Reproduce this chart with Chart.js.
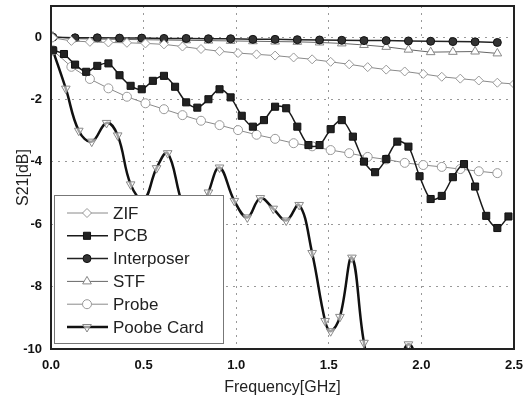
<!DOCTYPE html>
<html>
<head>
<meta charset="utf-8">
<script src="https://cdn.jsdelivr.net/npm/chart.js@4.4.0/dist/chart.umd.min.js"></script>
<style>
  html, body { margin: 0; padding: 0; background: #fff; }
  #wrap { width: 523px; height: 401px; }
</style>
</head>
<body>
<div id="wrap"><canvas id="s21-chart" width="523" height="401"></canvas></div>
<script>
// values (GHz / dB)
const xTicks = [0, 0.5, 1.0, 1.5, 2.0, 2.5];
const yTicks = [-10, -8, -6, -4, -2, 0];

const zifFreq = [0.01, 0.11, 0.21, 0.31, 0.41, 0.51, 0.61, 0.71, 0.81, 0.91, 1.01, 1.11, 1.21, 1.31, 1.41, 1.51, 1.61, 1.71, 1.81, 1.91, 2.01, 2.11, 2.21, 2.31, 2.41, 2.5];
const zifS21 = [-0.02, -0.12, -0.15, -0.17, -0.18, -0.2, -0.23, -0.3, -0.38, -0.45, -0.51, -0.55, -0.59, -0.65, -0.71, -0.79, -0.87, -0.96, -1.04, -1.1, -1.18, -1.27, -1.33, -1.39, -1.46, -1.5];

const pcbFreq = [0.01, 0.07, 0.13, 0.19, 0.25, 0.31, 0.37, 0.43, 0.49, 0.55, 0.61, 0.67, 0.73, 0.79, 0.85, 0.91, 0.97, 1.03, 1.09, 1.15, 1.21, 1.27, 1.33, 1.39, 1.45, 1.51, 1.57, 1.63, 1.69, 1.75, 1.81, 1.87, 1.93, 1.99, 2.05, 2.11, 2.17, 2.23, 2.29, 2.35, 2.41, 2.47];
const pcbS21 = [-0.42, -0.54, -0.88, -1.11, -0.92, -0.84, -1.22, -1.56, -1.67, -1.4, -1.24, -1.59, -2.09, -2.26, -1.99, -1.67, -1.93, -2.52, -2.87, -2.66, -2.23, -2.28, -2.87, -3.46, -3.46, -2.95, -2.66, -3.19, -3.99, -4.33, -3.91, -3.35, -3.51, -4.46, -5.19, -5.09, -4.49, -4.07, -4.79, -5.73, -6.12, -5.75];

const interposerFreq = [0.01, 0.13, 0.25, 0.37, 0.49, 0.61, 0.73, 0.85, 0.97, 1.09, 1.21, 1.33, 1.45, 1.57, 1.69, 1.81, 1.93, 2.05, 2.17, 2.29, 2.41];
const interposerS21 = [0.0, -0.02, -0.02, -0.03, -0.03, -0.04, -0.04, -0.05, -0.05, -0.07, -0.07, -0.08, -0.09, -0.1, -0.11, -0.11, -0.12, -0.13, -0.14, -0.15, -0.17];

const stfFreq = [0.01, 0.13, 0.25, 0.37, 0.49, 0.61, 0.73, 0.85, 0.97, 1.09, 1.21, 1.33, 1.45, 1.57, 1.69, 1.81, 1.93, 2.05, 2.17, 2.29, 2.41];
const stfS21 = [0.02, -0.05, -0.06, -0.07, -0.08, -0.09, -0.1, -0.11, -0.12, -0.13, -0.14, -0.15, -0.17, -0.2, -0.25, -0.31, -0.4, -0.48, -0.47, -0.46, -0.52];

const probeFreq = [0.01, 0.11, 0.21, 0.31, 0.41, 0.51, 0.61, 0.71, 0.81, 0.91, 1.01, 1.11, 1.21, 1.31, 1.41, 1.51, 1.61, 1.71, 1.81, 1.91, 2.01, 2.11, 2.21, 2.31, 2.41];
const probeS21 = [-0.42, -0.95, -1.34, -1.64, -1.91, -2.12, -2.31, -2.5, -2.68, -2.82, -2.98, -3.13, -3.26, -3.4, -3.5, -3.62, -3.72, -3.84, -3.92, -4.03, -4.1, -4.16, -4.23, -4.3, -4.36];

const cardFreq = [0.01, 0.08, 0.15, 0.22, 0.3, 0.36, 0.43, 0.5, 0.57, 0.63, 0.71, 0.78, 0.85, 0.91, 0.99, 1.06, 1.13, 1.2, 1.27, 1.34, 1.41, 1.48, 1.51, 1.56, 1.625, 1.69, 1.76, 1.85, 1.93, 2.0];
const cardS21 = [-0.42, -1.65, -3.0, -3.35, -2.75, -3.15, -4.72, -5.22, -4.2, -3.72, -5.35, -6.1, -4.98, -4.18, -5.25, -5.78, -5.16, -5.5, -5.88, -5.38, -6.92, -9.1, -9.43, -8.97, -7.07, -9.8, -11.5, -11.0, -9.85, -10.8];

const pts = (xs, ys) => xs.map((x, i) => ({x: x, y: ys[i]}));

const FONT = '"Liberation Sans", Arial, sans-serif';

const datasets = [
	{
		label: 'ZIF', data: pts(zifFreq, zifS21),
		borderColor: '#8a8a8a', borderWidth: 1, pointStyle: 'rectRot', pointRadius: 4.5,
		pointBorderColor: '#999', pointBackgroundColor: '#fff', pointBorderWidth: 1,
	},
	{
		label: 'PCB', data: pts(pcbFreq, pcbS21),
		borderColor: '#1a1a1a', borderWidth: 1.5, tension: 0.3, pointStyle: 'rect', pointRadius: 5,
		pointBorderColor: '#111', pointBackgroundColor: '#222', pointBorderWidth: 1,
	},
	{
		label: 'Interposer', data: pts(interposerFreq, interposerS21),
		borderColor: '#222', borderWidth: 1.5, pointStyle: 'circle', pointRadius: 4,
		pointBorderColor: '#111', pointBackgroundColor: '#333', pointBorderWidth: 1,
	},
	{
		label: 'STF', data: pts(stfFreq, stfS21),
		borderColor: '#666', borderWidth: 1, pointStyle: 'triangle', pointRadius: 5,
		pointBorderColor: '#888', pointBackgroundColor: '#fff', pointBorderWidth: 1,
	},
	{
		label: 'Probe', data: pts(probeFreq, probeS21),
		borderColor: '#8a8a8a', borderWidth: 1, pointStyle: 'circle', pointRadius: 4.5,
		pointBorderColor: '#999', pointBackgroundColor: '#fff', pointBorderWidth: 1,
	},
	{
		label: 'Poobe Card', data: pts(cardFreq, cardS21),
		borderColor: '#111', borderWidth: 2.5, tension: 0.4, pointStyle: 'triangle', pointRotation: 180, pointRadius: 5,
		pointBorderColor: '#888', pointBackgroundColor: 'rgba(255,255,255,0.6)', pointBorderWidth: 1,
	},
];

// legend box inside the plot + frame
const boxLegend = {
	id: 'boxLegend',
	afterDatasetsDraw(chart) {
		const ctx = chart.ctx;
		const area = chart.chartArea;
		const bx = area.left + 3, by = 195, bw = 169, bh = 148;
		ctx.save();
		ctx.fillStyle = '#fff';
		ctx.fillRect(bx, by, bw, bh);
		ctx.strokeStyle = '#777';
		ctx.lineWidth = 1;
		ctx.strokeRect(bx + 0.5, by + 0.5, bw, bh);
		ctx.font = '17px ' + FONT;
		ctx.textBaseline = 'middle';
		chart.data.datasets.forEach((ds, i) => {
			const y = by + 18 + i * 22.8;
			ctx.strokeStyle = ds.borderColor;
			ctx.lineWidth = ds.borderWidth;
			ctx.beginPath();
			ctx.moveTo(bx + 13, y);
			ctx.lineTo(bx + 54, y);
			ctx.stroke();
			ctx.strokeStyle = ds.pointBorderColor;
			ctx.fillStyle = ds.pointBackgroundColor;
			ctx.lineWidth = ds.pointBorderWidth;
			Chart.helpers.drawPoint(ctx, {
				pointStyle: ds.pointStyle, rotation: ds.pointRotation || 0,
				radius: ds.pointRadius, borderWidth: ds.pointBorderWidth,
			}, bx + 33, y);
			ctx.fillStyle = '#222';
			ctx.fillText(ds.label, bx + 59, y + 1);
		});
		ctx.strokeStyle = '#222';
		ctx.lineWidth = 2;
		ctx.strokeRect(area.left, area.top, area.right - area.left, area.bottom - area.top);
		ctx.restore();
	}
};

new Chart(document.querySelector('#s21-chart'), {
	type: 'line',
	data: {datasets: datasets},
	plugins: [boxLegend],
	options: {
		responsive: false,
		animation: false,
		layout: {padding: {top: 5, right: 9, left: 0, bottom: 0}},
		plugins: {legend: {display: false}, tooltip: {enabled: false}},
		scales: {
			x: {
				type: 'linear', min: 0, max: 2.5,
				afterBuildTicks: (s) => { s.ticks = xTicks.map(v => ({value: v})); },
				afterFit: (s) => { s.height = 52; s.paddingLeft = 0; s.paddingRight = 0; },
				grid: {color: '#999', drawTicks: false},
				border: {display: false, dash: [2, 5]},
				ticks: {
					padding: 9, color: '#111', font: {family: FONT, size: 13, weight: 'bold'},
					callback: (v) => v.toFixed(1),
				},
				title: {display: true, text: 'Frequency[GHz]', color: '#222', font: {family: FONT, size: 16}},
			},
			y: {
				type: 'linear', min: -10, max: 1,
				afterBuildTicks: (s) => { s.ticks = yTicks.map(v => ({value: v})); },
				afterFit: (s) => { s.width = 51; s.paddingTop = 0; s.paddingBottom = 0; },
				grid: {color: '#999', drawTicks: false},
				border: {display: false, dash: [2, 5]},
				ticks: {padding: 9, color: '#111', font: {family: FONT, size: 13, weight: 'bold'}},
				title: {display: true, text: 'S21[dB]', color: '#222', font: {family: FONT, size: 16}, padding: {top: 14, bottom: 0}},
			},
		},
	},
});
</script>
</body>
</html>
